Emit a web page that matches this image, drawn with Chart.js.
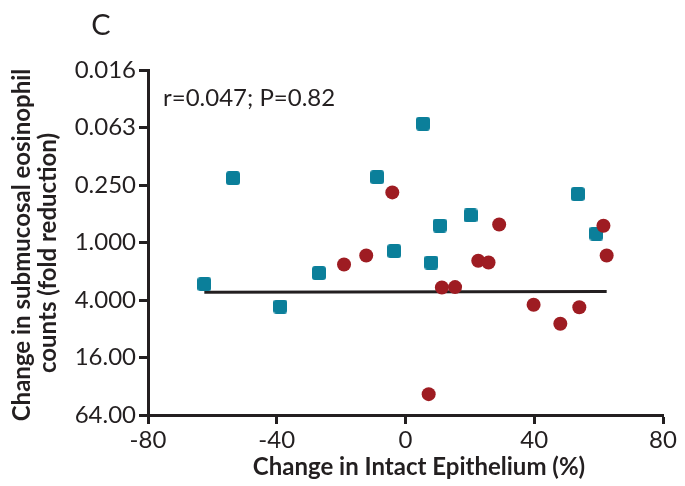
<!DOCTYPE html>
<html>
<head>
<meta charset="utf-8">
<script src="https://cdn.jsdelivr.net/npm/chart.js@4.4.1/dist/chart.umd.min.js"></script>
<style>
  html, body { margin: 0; padding: 0; background: #ffffff; }
  #wrap { width: 685px; height: 486px; }
</style>
</head>
<body>
<div id="wrap"><canvas id="chart" width="685" height="486"></canvas></div>
<script>
// Change in intact epithelium (%) vs. change in submucosal eosinophil counts (fold reduction)
const groupAX = [-62.5, -53.6, -38.9, -26.9, -8.8, -3.5, 5.45, 8.0, 10.65, 20.2, 53.5, 59.3];
const groupAY = [2.73, 0.212, 4.68, 2.09, 0.207, 1.23, 0.057, 1.62, 0.664, 0.521, 0.311, 0.805];

const groupBX = [-19.1, -12.2, -4.1, 7.2, 11.3, 15.4, 22.6, 25.8, 29.1, 39.8, 48.1, 54.0, 61.5, 62.5];
const groupBY = [1.70, 1.37, 0.299, 38.7, 2.96, 2.93, 1.55, 1.62, 0.648, 4.49, 7.10, 4.77, 0.668, 1.37];

// fitted regression line end points
const fitX = [-62.5, 62.5];
const fitY = [3.31, 3.26];

const yTickValues = [1/64, 1/16, 0.25, 1, 4, 16, 64];
const yTickLabels = ['0.016', '0.063', '0.250', '1.000', '4.000', '16.00', '64.00'];
const xTickValues = [-80, -40, 0, 40, 80];

const panelLetter = 'C';
const statsText = 'r=0.047; P=0.82';
const xTitle = 'Change in Intact Epithelium (%)';
const yTitle = ['Change in submucosal eosinophil', 'counts (fold reduction)'];

const INK = '#231f20';
const TEAL = '#0b7f9a';
const RED = '#9e1c22';

function toPoints(xs, ys) {
  return xs.map((x, i) => ({ x: x, y: ys[i] }));
}

// rounded square marker
function roundedSquare(size, r, color) {
  const c = document.createElement('canvas');
  c.width = size; c.height = size;
  const g = c.getContext('2d');
  g.fillStyle = color;
  g.beginPath();
  g.moveTo(r, 0);
  g.lineTo(size - r, 0);
  g.quadraticCurveTo(size, 0, size, r);
  g.lineTo(size, size - r);
  g.quadraticCurveTo(size, size, size - r, size);
  g.lineTo(r, size);
  g.quadraticCurveTo(0, size, 0, size - r);
  g.lineTo(0, r);
  g.quadraticCurveTo(0, 0, r, 0);
  g.closePath();
  g.fill();
  return c;
}

const squareMarker = roundedSquare(14, 3, TEAL);

const textPlugin = {
  id: 'panelText',
  afterDraw(chart) {
    const ctx = chart.ctx;
    ctx.save();
    ctx.fillStyle = INK;
    ctx.textBaseline = 'middle';

    ctx.font = '29px Lato';
    ctx.textAlign = 'center';
    ctx.fillText(panelLetter, 101, 26);

    ctx.font = '24px Lato';
    ctx.textAlign = 'left';
    ctx.fillText(statsText, 163, 98);

    ctx.font = 'bold 24px Lato';
    ctx.textAlign = 'center';
    ctx.fillText(xTitle, 419, 467);

    ctx.save();
    ctx.translate(22, 245);
    ctx.rotate(-Math.PI / 2);
    ctx.fillText(yTitle[0], 0, 0);
    ctx.restore();
    ctx.save();
    ctx.translate(48, 253);
    ctx.rotate(-Math.PI / 2);
    ctx.fillText(yTitle[1], 0, 0);
    ctx.restore();

    ctx.restore();
  }
};

new Chart(document.getElementById('chart'), {
  type: 'scatter',
  data: {
    datasets: [
      {
        label: 'B',
        data: toPoints(groupBX, groupBY),
        pointStyle: 'circle',
        pointRadius: 7,
        pointHoverRadius: 7,
        backgroundColor: RED,
        borderColor: RED,
        borderWidth: 0,
        order: 0
      },
      {
        label: 'A',
        data: toPoints(groupAX, groupAY),
        pointStyle: squareMarker,
        pointRadius: 7,
        pointHoverRadius: 7,
        backgroundColor: TEAL,
        borderColor: TEAL,
        order: 1
      },
      {
        type: 'line',
        label: 'fit',
        data: toPoints(fitX, fitY),
        borderColor: INK,
        borderWidth: 3,
        pointRadius: 0,
        fill: false,
        order: 2
      }
    ]
  },
  options: {
    responsive: false,
    animation: false,
    events: [],
    layout: { padding: { top: 70, right: 22, left: 0, bottom: 0 } },
    plugins: {
      legend: { display: false },
      tooltip: { enabled: false }
    },
    scales: {
      x: {
        type: 'linear',
        min: -80,
        max: 80,
        afterFit(scale) { scale.height = 71; },
        afterBuildTicks(scale) { scale.ticks = xTickValues.map(v => ({ value: v })); },
        border: { display: true, color: INK, width: 3 },
        grid: { drawOnChartArea: false, drawTicks: true, tickLength: 9, tickColor: INK, tickWidth: 3 },
        ticks: {
          color: INK,
          font: { family: 'Lato', size: 24 },
          padding: 2,
          maxRotation: 0,
          callback: (v) => String(v)
        }
      },
      y: {
        type: 'logarithmic',
        reverse: true,
        min: 1/64,
        max: 64,
        afterFit(scale) { scale.width = 148; },
        afterBuildTicks(scale) { scale.ticks = yTickValues.map(v => ({ value: v })); },
        border: { display: true, color: INK, width: 3 },
        grid: { drawOnChartArea: false, drawTicks: true, tickLength: 9, tickColor: INK, tickWidth: 3 },
        ticks: {
          color: INK,
          font: { family: 'Lato', size: 24 },
          padding: 3,
          callback: (v, i) => yTickLabels[i]
        }
      }
    }
  },
  plugins: [textPlugin]
});
</script>
</body>
</html>
